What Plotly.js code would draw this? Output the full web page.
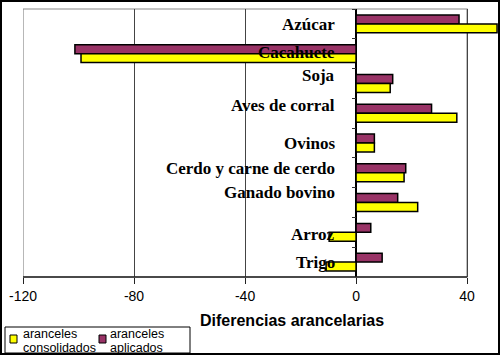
<!DOCTYPE html>
<html><head><meta charset="utf-8">
<script src="https://cdn.plot.ly/plotly-3.0.1.min.js"></script>
<style>
html,body{margin:0;padding:0;background:#fff}
#wrap{position:relative;width:500px;height:355px;overflow:hidden}
#chart{width:500px;height:355px}
#frame{position:absolute;left:0;top:0;width:500px;height:355px;box-sizing:border-box;border:2px solid #000;pointer-events:none}
</style>
</head><body>
<div id="wrap"><div id="chart"></div><div id="frame"></div></div>
<script>
// ---- data ----
const categories = ["Azúcar","Cacahuete","Soja","Aves de corral","Ovinos","Cerdo y carne de cerdo","Ganado bovino","Arroz","Trigo"];
const aplicados = [37.1, -101.3, 13.2, 27.2, 6.6, 17.9, 15.0, 5.3, 9.4];
const consolidados = [50.8, -99.1, 12.3, 36.3, 6.6, 17.3, 22.2, -9.7, -10.8];
const xTickVals = [-120, -80, -40, 0, 40];
const seriesNames = ["aranceles consolidados", "aranceles aplicados"];
const axisTitle = "Diferencias arancelarias";

// ---- style ----
const W = 500, H = 355, ML = 23, MR = 1, MT = 9, MB = 78;
const PW = W - ML - MR, PH = H - MT - MB;
const xRange = [-120, 51.5];
const labelShift = [-1, 1, 8, 8, 0, 4, 10, -2, 0];
const colYellow = "#FFFF00", colPurple = "#993366";
const px = p => (p - ML) / PW;          // pixel -> paper x
const py = p => (H - MB - p) / PH;      // pixel -> paper y

const traces = [
  {type: "bar", orientation: "h", name: seriesNames[1], y: categories, x: aplicados,
   marker: {color: colPurple, line: {color: "#000", width: 1.5}}, showlegend: false, hoverinfo: "x+y"},
  {type: "bar", orientation: "h", name: seriesNames[0], y: categories, x: consolidados,
   marker: {color: colYellow, line: {color: "#000", width: 1.5}}, showlegend: false, hoverinfo: "x+y"}
];

const annotations = categories.map((c, i) => ({
  x: 0, xref: "x", y: c, yref: "y", text: c, showarrow: false,
  xanchor: "right", yanchor: "middle", xshift: -19, yshift: labelShift[i],
  font: {family: "Liberation Serif, Times New Roman, serif", size: 17, color: "#000", weight: "bold"}
}));
annotations.push({
  x: px(292), xref: "paper", y: py(320), yref: "paper", text: "<b>" + axisTitle + "</b>",
  showarrow: false, xanchor: "center", yanchor: "middle",
  font: {family: "Liberation Sans, Arial, sans-serif", size: 16, color: "#000"}
});

// manual legend (Excel style)
const shapes = [
  // plot frame
  {type: "rect", xref: "x", yref: "paper", x0: -120, x1: 40, y0: 0, y1: 1, line: {color: "#888", width: 1.2}, layer: "below"},
  {type: "line", xref: "x", yref: "paper", x0: -120, x1: 40, y0: 0, y1: 0, line: {color: "#222", width: 1.5}},
  // legend box
  {type: "rect", xref: "paper", yref: "paper", x0: px(5), x1: px(190), y0: py(327), y1: py(353), line: {color: "#000", width: 1}, fillcolor: "#fff"}
];
const legendItems = [
  {name: seriesNames[0], color: colYellow, sx: 10, tx: 21},
  {name: seriesNames[1], color: colPurple, sx: 99, tx: 108}
];
legendItems.forEach(it => {
  shapes.push({type: "rect", xref: "paper", yref: "paper", x0: px(it.sx), x1: px(it.sx + 7), y0: py(335), y1: py(343),
    line: {color: "#000", width: 1}, fillcolor: it.color});
  const words = it.name.split(" ");
  words.forEach((w, k) => {
    annotations.push({x: px(it.tx), xref: "paper", y: py(334 + k * 13.5), yref: "paper", text: w, showarrow: false,
      xanchor: "left", yanchor: "middle",
      font: {family: "Liberation Sans, Arial, sans-serif", size: 12.5, color: "#000"}});
  });
});

const layout = {
  width: W, height: H, margin: {l: ML, r: MR, t: MT, b: MB},
  paper_bgcolor: "#fff", plot_bgcolor: "#fff",
  barmode: "group", bargap: 0.4, bargroupgap: 0,
  showlegend: false,
  xaxis: {range: xRange, tickvals: xTickVals, ticktext: xTickVals.map(String),
    showgrid: true, gridcolor: "#444", gridwidth: 1,
    zeroline: true, zerolinecolor: "#000", zerolinewidth: 1.5,
    ticks: "outside", ticklen: 6, tickcolor: "#222", showline: false,
    tickfont: {family: "Liberation Sans, Arial, sans-serif", size: 14, color: "#000"}},
  yaxis: {type: "category", categoryorder: "array", categoryarray: categories, autorange: "reversed",
    anchor: "free", position: (0 - xRange[0]) / (xRange[1] - xRange[0]),
    showticklabels: false, showgrid: false, zeroline: false, showline: false,
    tickson: "boundaries", ticks: "outside", ticklen: 4, tickcolor: "#333"},
  shapes: shapes, annotations: annotations
};

Plotly.newPlot("chart", traces, layout, {displayModeBar: false, staticPlot: true});
</script>
</body></html>
